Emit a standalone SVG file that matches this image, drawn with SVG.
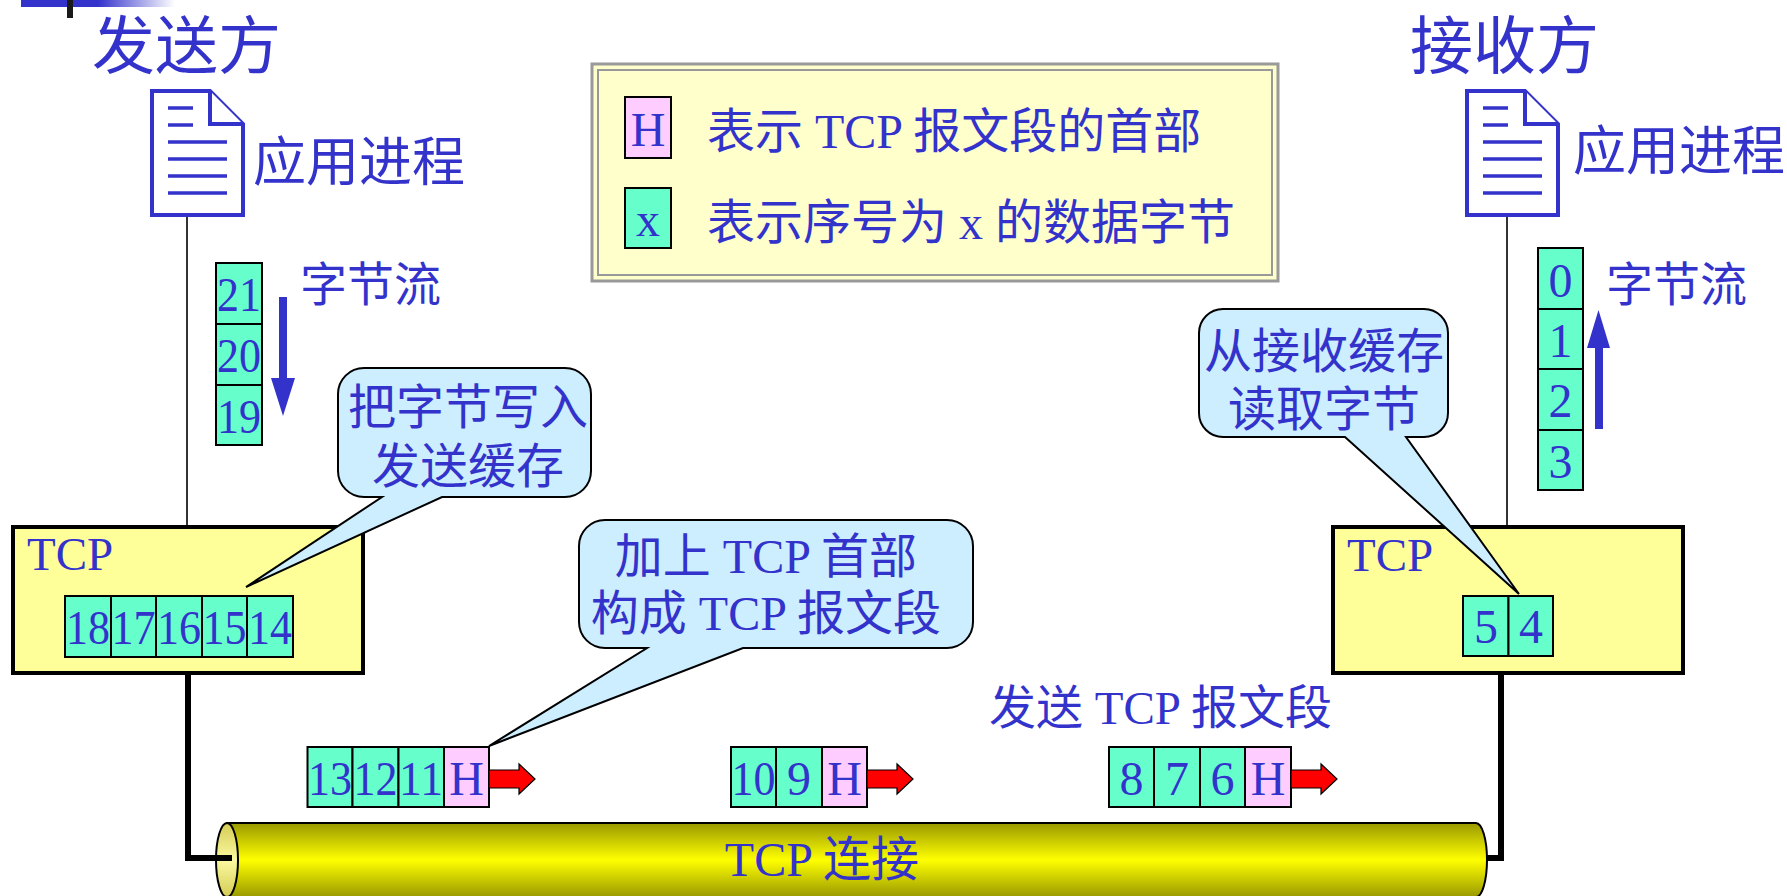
<svg xmlns="http://www.w3.org/2000/svg" xmlns:xlink="http://www.w3.org/1999/xlink" width="1787" height="896" viewBox="0 0 1787 896">
  <style>
    .t { font-family: "Liberation Serif", "Noto Sans CJK SC", serif; fill: #3333cc; }
    .num { font-size: 48px; text-anchor: middle; }
    .byte { fill: #66ffcc; stroke: #000; stroke-width: 2; }
    .hdr { fill: #ffccff; stroke: #000; stroke-width: 2; }
    .tcpbox { fill: #ffff99; stroke: #000; stroke-width: 4; }
    .callout { fill: #cceeff; stroke: #000; stroke-width: 2; }
    .red { fill: #ff0000; stroke: #000; stroke-width: 1.2; }
    .doc { fill: #fff; stroke: #3333cc; stroke-width: 4; }
    .docline { stroke: #3333cc; stroke-width: 3.5; }
    .thin { stroke: #333; stroke-width: 2; fill: none; }
    .thick { stroke: #000; stroke-width: 6; fill: none; }
  </style>
  <defs>
    <linearGradient id="barGrad" x1="0" y1="0" x2="1" y2="0">
      <stop offset="0" stop-color="#3333cc"/>
      <stop offset="0.5" stop-color="#3333cc"/>
      <stop offset="1" stop-color="#ffffff"/>
    </linearGradient>
    <linearGradient id="pipeGrad" x1="0" y1="0" x2="0" y2="1">
      <stop offset="0" stop-color="#999900"/>
      <stop offset="0.5" stop-color="#ffff00"/>
      <stop offset="1" stop-color="#999900"/>
    </linearGradient>
    <linearGradient id="faceGrad" x1="0" y1="0" x2="0" y2="1">
      <stop offset="0" stop-color="#d4cc55"/>
      <stop offset="0.5" stop-color="#fbf9a0"/>
      <stop offset="1" stop-color="#d4cc55"/>
    </linearGradient>
    <g id="docIcon">
      <path class="doc" d="M0 0 H58 L91 33 V124 H0 Z"/>
      <path class="doc" fill="none" d="M58 0 V33 H91"/>
      <path class="docline" d="M16 17 H41 M16 34 H41 M16 51 H75 M16 68 H75 M16 85 H75 M16 102 H75"/>
    </g>
    <path id="redArrow" class="red" d="M0 -9 H30 V-15 L46 0 L30 15 V9 H0 Z"/>
  </defs>

  <!-- title bar accent -->
  <rect x="21" y="0" width="154" height="7" fill="url(#barGrad)"/>
  <rect x="67" y="0" width="6" height="18" fill="#1a1a1a"/>

  <!-- connectors -->
  <g id="connectors">
    <line class="thin" x1="187" y1="216" x2="187" y2="527"/>
    <line class="thin" x1="1507" y1="216" x2="1507" y2="527"/>
  </g>

  <!-- TCP connection pipe -->
  <g id="pipe">
    <path d="M227 823 H1476 A11 37 0 0 1 1476 897 H227 Z" fill="url(#pipeGrad)" stroke="#000" stroke-width="2"/>
    <ellipse cx="227" cy="860" rx="11" ry="37" fill="url(#faceGrad)" stroke="#000" stroke-width="2"/>
    <text class="t" x="822" y="876" font-size="48" text-anchor="middle">TCP 连接</text>
  </g>

  <g id="pipe-links">
    <polyline class="thick" points="188,673 188,858 232,858"/>
    <polyline class="thick" points="1501,673 1501,858 1486,858"/>
  </g>

  <!-- sender -->
  <g id="sender">
    <text class="t" x="92" y="68" font-size="63">发送方</text>
    <use xlink:href="#docIcon" x="152" y="91"/>
    <text class="t" x="253" y="181" font-size="53">应用进程</text>
  </g>

  <g id="sender-stream">
    <rect class="byte" x="216" y="263" width="46" height="61"/>
    <rect class="byte" x="216" y="324" width="46" height="61"/>
    <rect class="byte" x="216" y="385" width="46" height="60"/>
    <text class="t num" x="239" y="311" textLength="44" lengthAdjust="spacingAndGlyphs">21</text>
    <text class="t num" x="239" y="372" textLength="44" lengthAdjust="spacingAndGlyphs">20</text>
    <text class="t num" x="239" y="433" textLength="44" lengthAdjust="spacingAndGlyphs">19</text>
    <path d="M279 297 H287 V378 H295 L283 416 L271 378 H279 Z" fill="#3333cc"/>
    <text class="t" x="300" y="301" font-size="47">字节流</text>
  </g>

  <g id="sender-tcp">
    <rect class="tcpbox" x="13" y="527" width="350" height="146"/>
    <text class="t" x="27" y="570" font-size="47">TCP</text>
    <rect class="byte" x="65" y="596" width="46" height="61"/>
    <rect class="byte" x="111" y="596" width="45" height="61"/>
    <rect class="byte" x="156" y="596" width="46" height="61"/>
    <rect class="byte" x="202" y="596" width="45" height="61"/>
    <rect class="byte" x="247" y="596" width="46" height="61"/>
    <text class="t num" x="88" y="644" textLength="44" lengthAdjust="spacingAndGlyphs">18</text>
    <text class="t num" x="133.5" y="644" textLength="44" lengthAdjust="spacingAndGlyphs">17</text>
    <text class="t num" x="179" y="644" textLength="44" lengthAdjust="spacingAndGlyphs">16</text>
    <text class="t num" x="224.5" y="644" textLength="44" lengthAdjust="spacingAndGlyphs">15</text>
    <text class="t num" x="270" y="644" textLength="44" lengthAdjust="spacingAndGlyphs">14</text>
  </g>

  <!-- receiver -->
  <g id="receiver">
    <text class="t" x="1410" y="68" font-size="63">接收方</text>
    <use xlink:href="#docIcon" x="1467" y="91"/>
    <text class="t" x="1573" y="170" font-size="53">应用进程</text>
  </g>

  <g id="receiver-stream">
    <rect class="byte" x="1538" y="248" width="45" height="61"/>
    <rect class="byte" x="1538" y="309" width="45" height="60"/>
    <rect class="byte" x="1538" y="369" width="45" height="61"/>
    <rect class="byte" x="1538" y="430" width="45" height="60"/>
    <text class="t num" x="1560.5" y="297">0</text>
    <text class="t num" x="1560.5" y="357">1</text>
    <text class="t num" x="1560.5" y="417">2</text>
    <text class="t num" x="1560.5" y="478">3</text>
    <path d="M1595 429 V348 H1587 L1598.5 310 L1610 348 H1603 V429 Z" fill="#3333cc"/>
    <text class="t" x="1606" y="301" font-size="47">字节流</text>
  </g>

  <g id="receiver-tcp">
    <rect class="tcpbox" x="1333" y="527" width="350" height="146"/>
    <text class="t" x="1347" y="571" font-size="47">TCP</text>
    <rect class="byte" x="1463" y="596" width="45.5" height="60"/>
    <rect class="byte" x="1508.5" y="596" width="44.5" height="60"/>
    <text class="t num" x="1486" y="643">5</text>
    <text class="t num" x="1531" y="643">4</text>
  </g>

  <!-- legend -->
  <g id="legend">
    <rect x="592" y="64" width="686" height="217" fill="#ffffcc" stroke="#999" stroke-width="3"/>
    <rect x="598" y="70" width="674" height="205" fill="none" stroke="#999" stroke-width="2"/>
    <rect class="hdr" x="625" y="97" width="46" height="61"/>
    <text class="t" x="648" y="146" font-size="48" text-anchor="middle">H</text>
    <text class="t" x="707" y="148" font-size="48">表示 TCP 报文段的首部</text>
    <rect class="byte" x="625" y="188" width="46" height="60"/>
    <text class="t" x="648" y="236" font-size="48" text-anchor="middle">x</text>
    <text class="t" x="707" y="239" font-size="48">表示序号为 x 的数据字节</text>
  </g>

  <!-- segments in flight -->
  <g id="segment-1">
    <rect class="byte" x="307.5" y="747" width="45" height="60"/>
    <rect class="byte" x="352.5" y="747" width="46" height="60"/>
    <rect class="byte" x="398.5" y="747" width="45.5" height="60"/>
    <rect class="hdr" x="444" y="747" width="45" height="60"/>
    <text class="t num" x="330" y="795" textLength="44" lengthAdjust="spacingAndGlyphs">13</text>
    <text class="t num" x="375.5" y="795" textLength="44" lengthAdjust="spacingAndGlyphs">12</text>
    <text class="t num" x="421" y="795" textLength="44" lengthAdjust="spacingAndGlyphs">11</text>
    <text class="t num" x="466.5" y="795">H</text>
    <use xlink:href="#redArrow" x="489" y="779"/>
  </g>

  <g id="segment-2">
    <rect class="byte" x="731" y="747" width="45" height="60"/>
    <rect class="byte" x="776" y="747" width="46" height="60"/>
    <rect class="hdr" x="822" y="747" width="45" height="60"/>
    <text class="t num" x="753.5" y="795" textLength="44" lengthAdjust="spacingAndGlyphs">10</text>
    <text class="t num" x="799" y="795">9</text>
    <text class="t num" x="844.5" y="795">H</text>
    <use xlink:href="#redArrow" x="867" y="779"/>
  </g>

  <g id="segment-3">
    <text class="t" x="989" y="724" font-size="47">发送 TCP 报文段</text>
    <rect class="byte" x="1109" y="747" width="45" height="60"/>
    <rect class="byte" x="1154" y="747" width="46" height="60"/>
    <rect class="byte" x="1200" y="747" width="45" height="60"/>
    <rect class="hdr" x="1245" y="747" width="46" height="60"/>
    <text class="t num" x="1131.5" y="795">8</text>
    <text class="t num" x="1177" y="795">7</text>
    <text class="t num" x="1222.5" y="795">6</text>
    <text class="t num" x="1268" y="795">H</text>
    <use xlink:href="#redArrow" x="1291" y="779"/>
  </g>

  <!-- callouts -->
  <g id="callout-write">
    <path class="callout" d="M364 368 H565 A26 26 0 0 1 591 394 V471 A26 26 0 0 1 565 497 H442 L246 587 L382 497 H364 A26 26 0 0 1 338 471 V394 A26 26 0 0 1 364 368 Z"/>
    <text class="t" x="468" y="424" font-size="48" text-anchor="middle">把字节写入</text>
    <text class="t" x="468" y="483" font-size="48" text-anchor="middle">发送缓存</text>
  </g>

  <g id="callout-header">
    <path class="callout" d="M605 520 H947 A26 26 0 0 1 973 546 V622 A26 26 0 0 1 947 648 H743 L489 746 L647 648 H605 A26 26 0 0 1 579 622 V546 A26 26 0 0 1 605 520 Z"/>
    <text class="t" x="766" y="573" font-size="48" text-anchor="middle">加上 TCP 首部</text>
    <text class="t" x="766" y="630" font-size="48" text-anchor="middle">构成 TCP 报文段</text>
  </g>

  <g id="callout-read">
    <path class="callout" d="M1223 309 H1424 A24 24 0 0 1 1448 333 V413 A24 24 0 0 1 1424 437 H1406 L1519 594 L1345 437 H1223 A24 24 0 0 1 1199 413 V333 A24 24 0 0 1 1223 309 Z"/>
    <text class="t" x="1324" y="368" font-size="48" text-anchor="middle">从接收缓存</text>
    <text class="t" x="1324" y="426" font-size="48" text-anchor="middle">读取字节</text>
  </g>
</svg>
